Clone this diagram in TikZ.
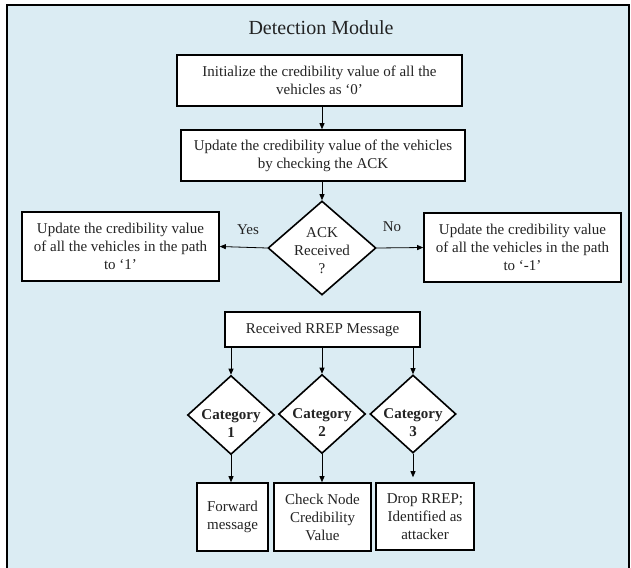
\documentclass[tikz,border=0pt]{standalone}
\usepackage{fontspec}
\setmainfont{Liberation Serif}
\usepackage{tikz}
\usetikzlibrary{arrows.meta}
\usetikzlibrary{shapes.geometric}
\definecolor{panelblue}{RGB}{219,236,243}
\definecolor{inkgray}{RGB}{35,35,35}
\newcommand{\catlabel}[1]{\rule{0pt}{27pt}\textbf{Category}\\ \textbf{#1}}
\tikzset{
  procbox/.style={draw=black, line width=1.6pt, fill=white, align=center,
    inner sep=0pt, text=inkgray, font=\fontsize{15}{18}\selectfont},
  decision/.style={draw=black, diamond, line width=1.6pt, fill=white, align=center,
    inner sep=-14pt, text=inkgray, font=\fontsize{15}{18}\selectfont},
  flow/.style={-{Triangle[length=6pt,width=5pt]}, line width=0.8pt},
  answer/.style={text=inkgray, font=\fontsize{15}{18}\selectfont}
}
\begin{document}
\begin{tikzpicture}[x=1pt,y=-1pt]
\useasboundingbox (0,0) rectangle (631,567);
\clip (0,0) rectangle (631,567);
\draw[line width=2.4pt, fill=panelblue] (7,5) rectangle (629,590);
\node (title) at (321,28) [text=inkgray]{\fontsize{20}{24}\selectfont Detection Module};
\node (init) at (319.5,80.5) [procbox, minimum width=285, minimum height=51]
  {Initialize the credibility value of all the\\ vehicles as ‘0’};
\node (upd) at (323,155.5) [procbox, minimum width=284, minimum height=51]
  {Update the credibility value of the vehicles\\ by checking the ACK};
\node (ack) at (322,248) [decision, minimum width=108, minimum height=94]
  {\rule{0pt}{15pt}ACK\\ Received\\ ?};
\node (yesbox) at (120.5,246.5) [procbox, minimum width=197, minimum height=69]
  {Update the credibility value\\ of all the vehicles in the path\\ to ‘1’};
\node (nobox) at (522.5,247.5) [procbox, minimum width=197, minimum height=69]
  {Update the credibility value\\ of all the vehicles in the path\\ to ‘-1’};
\node (yes) at (248,230) [answer]{Yes};
\node (no) at (392,227) [answer]{No};
\node (rrep) at (322.5,329.5) [procbox, minimum width=195, minimum height=35]
  {Received RREP Message};
\node (cat1) at (231,415) [decision, minimum width=87, minimum height=79]{\catlabel{1}};
\node (cat2) at (322,414) [decision, minimum width=87, minimum height=79]{\catlabel{2}};
\node (cat3) at (413,414) [decision, minimum width=86, minimum height=78]{\catlabel{3}};
\node (fwd) at (232.5,517) [procbox, minimum width=71, minimum height=68]
  {Forward\\ message};
\node (check) at (322.5,517) [procbox, minimum width=97, minimum height=68]
  {Check Node\\ Credibility\\ Value};
\node (drop) at (425,516.5) [procbox, minimum width=98, minimum height=67]
  {Drop RREP;\\ Identified as\\ attacker};
\draw[flow] (init.south -| ack) -- (upd.north -| ack);
\draw[flow] (upd.south -| ack) -- (ack.north);
\draw[flow] (ack.west) -- (yesbox.east);
\draw[flow] (ack.east) -- (nobox.west);
\draw[flow] (rrep.south -| cat1) -- (cat1.north);
\draw[flow] (rrep.south -| cat2) -- (cat2.north);
\draw[flow] (rrep.south -| cat3) -- (cat3.north);
\draw[flow] (cat1.south) -- (fwd.north -| cat1);
\draw[flow] (cat2.south) -- (check.north -| cat2);
\draw[flow, shorten >=5pt] (cat3.south) -- (drop.north -| cat3);
\end{tikzpicture}
\end{document}
